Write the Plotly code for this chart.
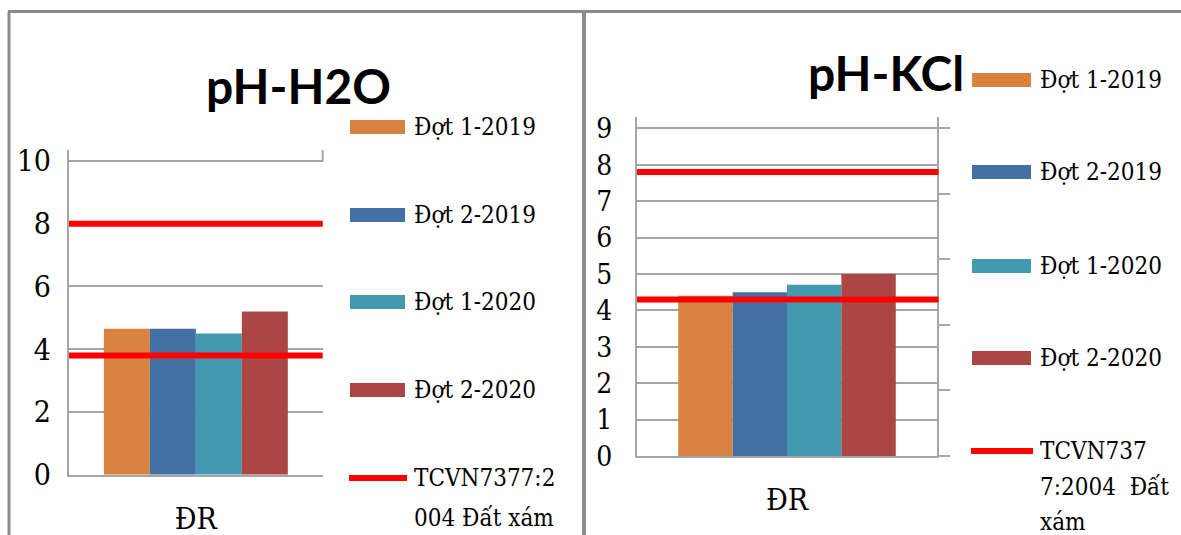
import plotly.graph_objects as go

# ---- data ----
category = ["ĐR"]
series_names = ["Đợt 1-2019", "Đợt 2-2019", "Đợt 1-2020", "Đợt 2-2020"]
ph_h2o = [4.65, 4.65, 4.5, 5.2]
ph_kcl = [4.4, 4.5, 4.7, 5.0]
tcvn_h2o = [3.8, 8.0]
tcvn_kcl = [4.3, 7.8]
tcvn_label_h2o = ["TCVN7377:2", "004 Đất xám"]
tcvn_label_kcl = ["TCVN737", "7:2004  Đất", "xám"]
h2o_ticks = [0, 2, 4, 6, 8, 10]
kcl_ticks = [0, 1, 2, 3, 4, 5, 6, 7, 8, 9]

bar_colors = ["#DA8340", "#4470A6", "#4299B0", "#AA4644"]
limit_color = "#FF0000"
grid_color = "#A6A6A6"
frame_color = "#8A8A8A"
serif = "DejaVu Serif Condensed, DejaVu Serif"
W, H = 1181, 535


def px(x):
    return x / W


def py(y):
    return 1 - y / H


fig = go.Figure()

# bars, left panel (pH-H2O)
for name, val, col in zip(series_names, ph_h2o, bar_colors):
    fig.add_trace(go.Bar(x=category, y=[val], name=name, marker_color=col,
                         marker_line_width=0, xaxis="x", yaxis="y",
                         showlegend=False))
# bars, right panel (pH-KCl)
for name, val, col in zip(series_names, ph_kcl, bar_colors):
    fig.add_trace(go.Bar(x=category, y=[val], name=name, marker_color=col,
                         marker_line_width=0, xaxis="x2", yaxis="y2",
                         showlegend=False))

shapes = []
# limit lines of the standard
for v in tcvn_h2o:
    shapes.append(dict(type="line", xref="x domain", yref="y", x0=0, x1=1,
                       y0=v, y1=v, line=dict(color=limit_color, width=6),
                       layer="above"))
for v in tcvn_kcl:
    shapes.append(dict(type="line", xref="x2 domain", yref="y2", x0=0, x1=1.005,
                       y0=v, y1=v, line=dict(color=limit_color, width=6),
                       layer="above"))
# short right edge above the top gridline of the left panel
shapes.append(dict(type="line", xref="x domain", yref="y", x0=1, x1=1,
                   y0=h2o_ticks[-1], y1=10.35,
                   line=dict(color=grid_color, width=2)))

# outer frame and panel divider
shapes += [
    dict(type="line", xref="paper", yref="paper", x0=px(8), x1=1, y0=py(11.5), y1=py(11.5),
         line=dict(color=frame_color, width=3)),
    dict(type="line", xref="paper", yref="paper", x0=px(9), x1=px(9), y0=py(11.5), y1=0,
         line=dict(color=frame_color, width=3)),
    dict(type="line", xref="paper", yref="paper", x0=px(584), x1=px(584), y0=py(11.5), y1=0,
         line=dict(color=frame_color, width=4)),
]

annotations = []
legend_font = dict(family=serif, size=24, color="black")
# hand-built legends beside each panel
legend_specs = [
    dict(x0=350, x1=405, tx=412, ys=[127, 215, 302, 390], yline=478, lines=tcvn_label_h2o,
         step=40),
    dict(x0=972, x1=1031, tx=1038, ys=[80, 172, 266, 358], yline=451, lines=tcvn_label_kcl,
         step=35.5),
]
for spec in legend_specs:
    for name, col, yc in zip(series_names, bar_colors, spec["ys"]):
        shapes.append(dict(type="rect", xref="paper", yref="paper",
                           x0=px(spec["x0"]), x1=px(spec["x1"]),
                           y0=py(yc + 7), y1=py(yc - 7),
                           fillcolor=col, line=dict(width=0)))
        annotations.append(dict(xref="paper", yref="paper", x=px(spec["tx"]), y=py(yc),
                                text=name, showarrow=False, xanchor="left", yanchor="middle",
                                font=legend_font))
    shapes.append(dict(type="line", xref="paper", yref="paper",
                       x0=px(spec["x0"] - 1), x1=px(spec["x1"] + 2),
                       y0=py(spec["yline"]), y1=py(spec["yline"]),
                       line=dict(color=limit_color, width=6)))
    for i, txt in enumerate(spec["lines"]):
        annotations.append(dict(xref="paper", yref="paper", x=px(spec["tx"]),
                                y=py(spec["yline"] + i * spec["step"]),
                                text=txt, showarrow=False, xanchor="left",
                                yanchor="middle", font=legend_font))

# panel titles
annotations.append(dict(xref="paper", yref="paper", x=px(298), y=py(85), text="<b>pH-H2O</b>",
                        showarrow=False, xanchor="center", yanchor="middle",
                        font=dict(family="Lato", size=48, color="black")))
annotations.append(dict(xref="paper", yref="paper", x=px(886), y=py(72), text="<b>pH-KCl</b>",
                        showarrow=False, xanchor="center", yanchor="middle",
                        font=dict(family="Lato", size=48, color="black")))

tickfont = dict(family=serif, size=30, color="black")

fig.update_layout(
    width=W, height=H,
    margin=dict(l=0, r=0, t=0, b=0),
    paper_bgcolor="white", plot_bgcolor="white",
    barmode="group", bargap=0.275, bargroupgap=0,
    showlegend=False,
    shapes=shapes, annotations=annotations,
    xaxis=dict(domain=[px(69), px(322.7)], anchor="y", showline=True, automargin=False,
               linecolor=grid_color, linewidth=2, showgrid=False, ticks="",
               tickfont=tickfont, ticklabelstandoff=16, fixedrange=True),
    yaxis=dict(domain=[py(474.7), py(150)], anchor="x", range=[0, 10.35], automargin=False,
               tickvals=h2o_ticks, showline=True, linecolor=grid_color, linewidth=2,
               showgrid=True, gridcolor=grid_color, gridwidth=2, zeroline=False,
               ticks="", tickfont=tickfont, ticklabelstandoff=10),
    xaxis2=dict(domain=[px(637), px(937)], anchor="y2", showline=True, automargin=False,
                linecolor=grid_color, linewidth=2, showgrid=False, ticks="",
                tickfont=tickfont, ticklabelstandoff=16),
    yaxis2=dict(domain=[py(456), py(117)], anchor="x2", range=[0, 9.31], automargin=False,
                tickvals=kcl_ticks, showline=True, linecolor=grid_color, linewidth=2,
                showgrid=True, gridcolor=grid_color, gridwidth=2, zeroline=False,
                ticks="", tickfont=dict(family=serif, size=28, color="black"),
                ticklabelstandoff=17),
    yaxis3=dict(overlaying="y2", anchor="x2", side="right", range=[0, 9.31], automargin=False,
                tick0=0, dtick=1.8, showline=True, linecolor=grid_color, linewidth=2,
                showgrid=False, zeroline=False, ticks="outside", ticklen=11,
                tickwidth=2, tickcolor=grid_color, showticklabels=False),
)
# an empty trace keeps the right-hand axis of the KCl panel drawn
fig.add_trace(go.Scatter(x=category, y=[None], xaxis="x2", yaxis="y3",
                         showlegend=False, hoverinfo="skip"))

fig.write_html("out.html")
